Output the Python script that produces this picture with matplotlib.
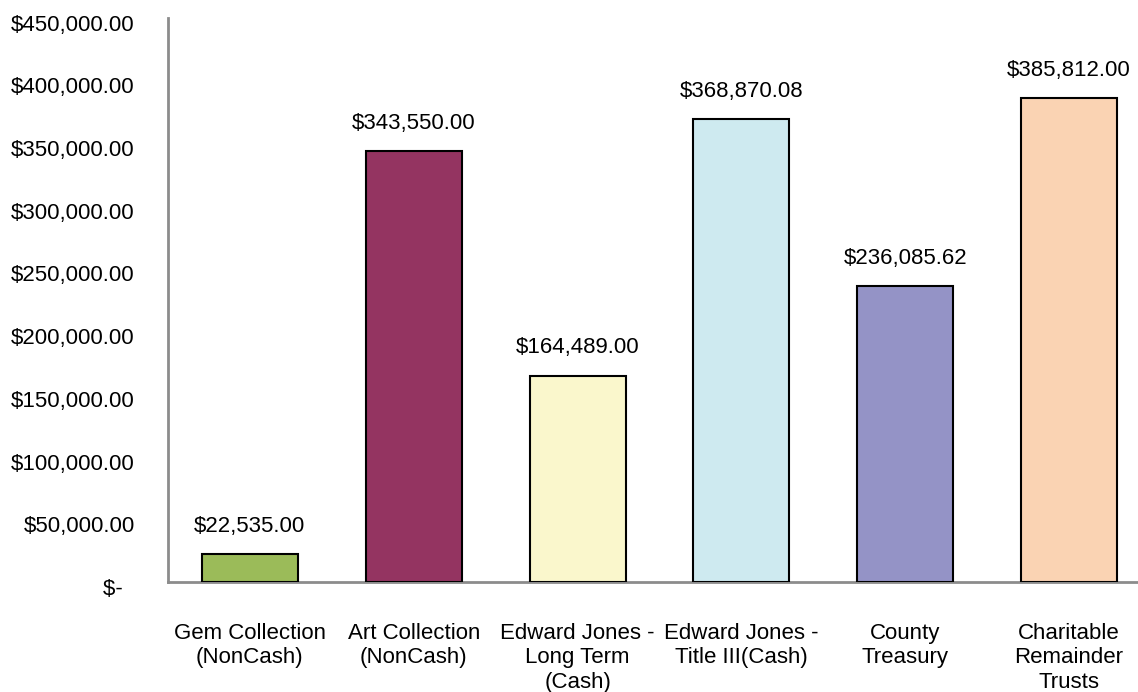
import matplotlib
matplotlib.use("Agg")
import matplotlib.pyplot as plt
from matplotlib.transforms import ScaledTranslation

plt.rcParams['font.family'] = ['Liberation Sans', 'DejaVu Sans']

categories = ["Gem Collection\n(NonCash)", "Art Collection\n(NonCash)",
              "Edward Jones -\nLong Term\n(Cash)", "Edward Jones -\nTitle III(Cash)",
              "County\nTreasury", "Charitable\nRemainder\nTrusts"]
values = [22535.00, 343550.00, 164489.00, 368870.08, 236085.62, 385812.00]
value_labels = ["$22,535.00", "$343,550.00", "$164,489.00", "$368,870.08",
                "$236,085.62", "$385,812.00"]
colors = ["#9BBB59", "#943461", "#FAF7CC", "#CEEAF0", "#9493C6", "#FAD3B3"]
yticks = [0, 50000, 100000, 150000, 200000, 250000, 300000, 350000, 400000, 450000]
ytick_labels = ["$-  ", "$50,000.00", "$100,000.00", "$150,000.00", "$200,000.00",
                "$250,000.00", "$300,000.00", "$350,000.00", "$400,000.00", "$450,000.00"]

fig = plt.figure(figsize=(11.38, 6.92), dpi=100)
ax = fig.add_axes([168/1138, 110/692, (1151-168)/1138, (582-17.5)/692])

x = list(range(len(values)))
bars = ax.bar(x, values, width=0.585, color=colors, edgecolor="black", linewidth=1.5, zorder=3)

for xi, v, lab in zip(x, values, value_labels):
    ax.annotate(lab, (xi, v), xytext=(0, 16), textcoords="offset points",
                ha="center", va="baseline", fontsize=16, color="black")

ax.set_xlim(-0.5, 5.5)
ax.set_ylim(0, 450000)
ax.set_yticks(yticks)
ax.set_yticklabels(ytick_labels, fontsize=16)
ax.set_xticks(x)
ax.set_xticklabels(categories, fontsize=16, linespacing=1.22)
ax.tick_params(axis="y", length=0, pad=24)
ax.tick_params(axis="x", length=0, pad=29.5)

off = ScaledTranslation(0, -5/100, fig.dpi_scale_trans)
for t in ax.get_yticklabels():
    t.set_transform(t.get_transform() + off)

for s in ["top", "right"]:
    ax.spines[s].set_visible(False)
for s in ["left", "bottom"]:
    ax.spines[s].set_color("#8C8C8C")
    ax.spines[s].set_linewidth(2)

fig.savefig("out.png", dpi=100)
